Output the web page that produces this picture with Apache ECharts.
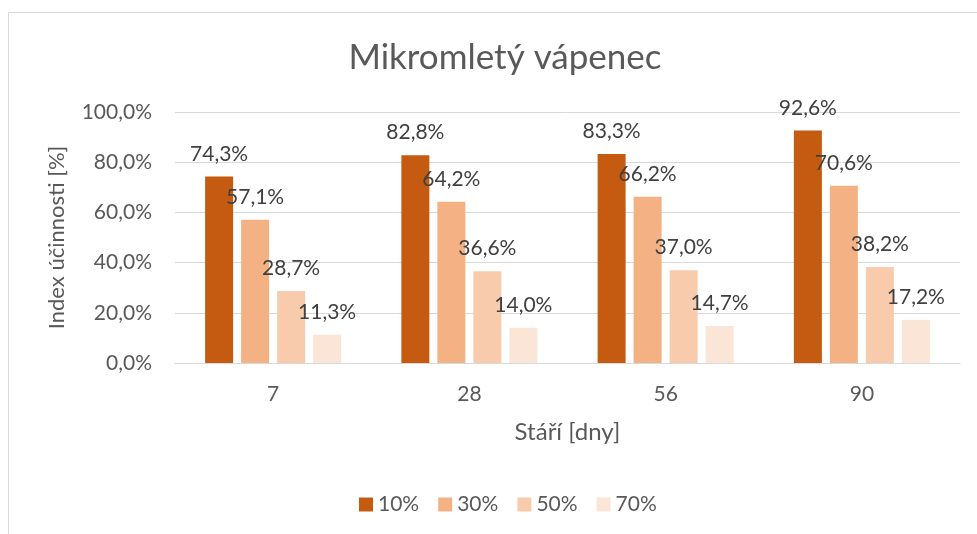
<!DOCTYPE html>
<html>
<head>
<meta charset="utf-8">
<script src="https://cdn.jsdelivr.net/npm/echarts@6/dist/echarts.min.js"></script>
<style>html,body{margin:0;padding:0;background:#fff}#c{width:977px;height:534px}</style>
</head>
<body>
<div id="c"></div>
<script>
var categories = ['7', '28', '56', '90'];
var seriesNames = ['10%', '30%', '50%', '70%'];
var s10 = [74.3, 82.8, 83.3, 92.6];
var s30 = [57.1, 64.2, 66.2, 70.6];
var s50 = [28.7, 36.6, 37.0, 38.2];
var s70 = [11.3, 14.0, 14.7, 17.2];
var colors = ['#C55A11', '#F4B183', '#F8CBAD', '#FBE5D6'];
var FONT = 'Lato';
function fmt(v){ return v.toFixed(1).replace('.', ',') + '%'; }
var chart = echarts.init(document.getElementById('c'));
var data = [s10, s30, s50, s70];
chart.setOption({
  animation: false,
  textStyle: {fontFamily: FONT},
  graphic: [{type:'rect', shape:{x:8.5, y:12.5, width:1000, height:600}, style:{fill:'none', stroke:'#d9d9d9', lineWidth:1}, silent:true}],
  title: {text: 'Mikromletý vápenec', left: 500, textAlign: 'center', top: 35, textStyle:{fontFamily: FONT, fontSize: 35, fontWeight:'normal', color:'#595959'}},
  legend: {data: seriesNames, left: 354, top: 489, itemWidth: 14, itemHeight: 14, itemGap: 19, icon:'rect',
    textStyle:{fontFamily: FONT, fontSize: 21, color:'#595959'}},
  grid: {left: 175, right: 17, top: 112, bottom: 171},
  xAxis: {type:'category', data: categories, name:'Stáří [dny]', nameLocation:'middle', nameGap: 57,
    nameTextStyle:{fontFamily: FONT, fontSize: 24, color:'#595959'},
    axisLine:{lineStyle:{color:'#d9d9d9'}}, axisTick:{show:false},
    axisLabel:{fontFamily: FONT, fontSize: 21, color:'#595959', margin: 21}},
  yAxis: {type:'value', min:0, max:100, interval:20, name:'Index účinnosti [%]', nameLocation:'middle', nameGap: 107,
    nameTextStyle:{fontFamily: FONT, fontSize: 22, color:'#595959'},
    axisLine:{show:false}, axisTick:{show:false},
    splitLine:{lineStyle:{color:'#d9d9d9'}},
    axisLabel:{fontFamily: FONT, fontSize: 21, color:'#595959', margin: 23, formatter: fmt}},
  series: data.map(function(d, i){
    return {name: seriesNames[i], type:'bar', data: d, barWidth: 28, barGap: '28.6%', barCategoryGap: '30.6%',
      itemStyle:{color: colors[i]},
      label:{show:true, position:'top', distance: 12, formatter: function(p){return fmt(p.value);}, fontFamily: FONT, fontSize: 21, color:'#404040'}};
  })
});
</script>
</body>
</html>
